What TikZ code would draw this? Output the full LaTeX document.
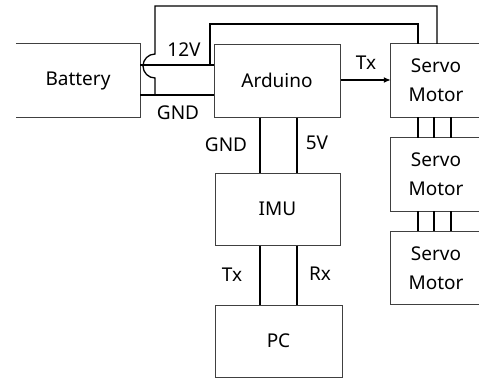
\documentclass[tikz,border=0pt]{standalone}
\usepackage{fontspec}
\setmainfont{Noto Sans}
\usetikzlibrary{arrows.meta}
\begin{document}
\begin{tikzpicture}[x=1pt,y=-1pt,
  box/.style={draw=black!75,line width=1pt,minimum width=#1,inner sep=0pt,minimum height=73pt},
  openbox/.style={inner sep=0pt,minimum height=73pt,minimum width=#1},
  wire/.style={line width=1.3pt,black},
  lbl/.style={inner sep=0pt,font=\fontsize{19}{21}\selectfont},
  every node/.append style={font=\fontsize{19}{29}\selectfont}]
\useasboundingbox[fill=white] (0,0) rectangle (479,378);
% boxes
\node[openbox=124pt] (bat) at (78,80.5) {Battery};
\draw[draw=black!75,line width=1pt] (bat.north west) -- (bat.north east) -- (bat.south east) -- (bat.south west);
\node[box=126pt] (ard) at (277,80.5) {Arduino};
\node[box=125pt,minimum height=72pt] (imu) at (277.5,209) {IMU};
\node[box=127pt,minimum height=72pt] (pc) at (278.5,341) {PC};
\foreach \n/\y in {s1/80.5,s2/174.5,s3/268} {
  \node[openbox=90pt,align=center] (\n) at (436,\y) {Servo\\Motor};
  \draw[draw=black!75,line width=1pt] (\n.north east) -- (\n.north west) -- (\n.south west) -- (\n.south east);
}
% coordinates
\coordinate (b12) at (bat.east |- 0,65);
\coordinate (a12) at (ard.west |- 0,65);
\coordinate (bg) at (bat.east |- 0,95);
\coordinate (ag) at (ard.west |- 0,95);
\coordinate (j1) at (210,65);
\coordinate (j2) at (155,95);
\coordinate (t1) at (418,0 |- s1.north);
\coordinate (t2) at (437,0 |- s1.north);
% power lines
\draw[wire] (b12) -- (a12);
\draw[wire] (bg) -- (ag);
\draw[wire] (j1) -- (210,24) -- (418,24) -- (t1);
\draw[wire] (j2) -- (155,78) .. controls (148.4,78) and (143,72.6) .. (143,66)
  .. controls (143,59.4) and (148.4,54) .. (155,54) -- (155,6) -- (437,6) -- (t2);
\node[lbl] (l12) at (184,50) {12V};
\node[lbl] (lgnd) at (178,113) {GND};
% Tx arrow
\draw[wire,-{Latex[length=7pt,width=6pt]}] (ard.east |- 0,80) -- (s1.west |- 0,80);
\node[lbl] (ltx) at (366,63) {Tx};
% arduino - imu
\draw[wire] (ard.south -| 260,0) -- (imu.north -| 260,0);
\draw[wire] (ard.south -| 297,0) -- (imu.north -| 297,0);
\node[lbl] (lg2) at (226,145) {GND};
\node[lbl] (l5) at (317,143) {5V};
% imu - pc
\draw[wire] (imu.south -| 260,0) -- (pc.north -| 260,0);
\draw[wire] (imu.south -| 297,0) -- (pc.north -| 297,0);
\node[lbl] (ltx2) at (232,275) {Tx};
\node[lbl] (lrx) at (320,274) {Rx};
% servo buses
\foreach \x in {418,434,451} {
  \draw[wire] (s1.south -| \x,0) -- (s2.north -| \x,0);
  \draw[wire] (s2.south -| \x,0) -- (s3.north -| \x,0);
}
\end{tikzpicture}
\end{document}
